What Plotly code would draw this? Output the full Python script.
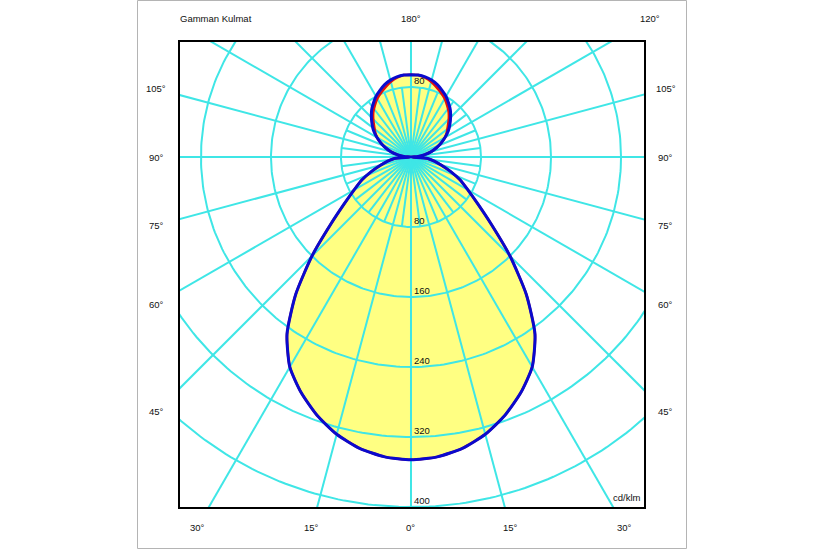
import numpy as np
import plotly.graph_objects as go

# ---- data ----
gamma_deg = [0, 5, 10, 15, 20, 25, 30, 35, 40, 45, 50, 55, 60, 65, 70, 75, 80, 85, 90,
             95, 100, 105, 110, 115, 120, 125, 130, 135, 140, 145, 150, 155, 160, 165, 170, 175, 180]
intensity_c90 = [346, 344, 338, 328, 314, 297, 277, 247, 205, 160, 120, 93, 75, 62, 48, 36, 27, 19, 0,
                 8, 16, 24, 31, 38, 45, 52, 58, 64, 70, 75, 80, 84, 88, 91, 93, 94, 94]
intensity_c0 = [346, 344, 338, 328, 314, 297, 277, 247, 205, 160, 120, 93, 75, 62, 48, 36, 27, 19, 0,
                8, 16, 24, 31, 38, 45, 50, 55, 61, 67, 72, 77, 81, 85, 89, 92, 94, 94]
circle_values = [80, 160, 240, 320, 400]
circle_labels = ["80", "160", "240", "320", "400"]
upper_label_value = 80
side_angles = [105, 90, 75, 60, 45]
bottom_angles = [30, 15, 0, 15, 30]
bottom_signs = [-1, -1, 0, 1, 1]
top_label = "180°"
top_right_label = "120°"
title_text = "Gamman Kulmat"
unit_text = "cd/klm"

# ---- layout geometry ----
W, H = 825, 550
L, R, T, B = 179, 180, 41, 42
XR = [-265.1, 267.4]
YR = [-401.1, 132.6]
pw, ph = W - L - R, H - T - B

CYAN = "#3FE6E6"
BLUE = "#0A0ACD"
RED = "#E01010"
YELLOW = "#FFFF82"
FONT = dict(family="Liberation Sans, Arial, sans-serif", size=9.5, color="#111111")


def px(x):
    return (x - XR[0]) / (XR[1] - XR[0])


def py(y):
    return (y - YR[0]) / (YR[1] - YR[0])


def to_xy(angles, values, side):
    a = np.radians(np.array(angles, dtype=float))
    v = np.array(values, dtype=float)
    return side * v * np.sin(a), -v * np.cos(a)


def closed_curve(values):
    xr, yr = to_xy(gamma_deg, values, 1)
    xl, yl = to_xy(gamma_deg, values, -1)
    x = np.concatenate([xr, xl[::-1]])
    y = np.concatenate([yr, yl[::-1]])
    return x, y


fig = go.Figure()

# fill
fx, fy = closed_curve(intensity_c90)
fig.add_trace(go.Scatter(x=fx, y=fy, mode="lines", fill="toself", fillcolor=YELLOW,
                         line=dict(width=0, shape="spline", smoothing=0.6), hoverinfo="skip"))

# grid circles
th = np.linspace(0, 2 * np.pi, 361)
for r in circle_values:
    fig.add_trace(go.Scatter(x=r * np.cos(th), y=r * np.sin(th), mode="lines",
                             line=dict(color=CYAN, width=2), hoverinfo="skip"))

# radial lines: every 15 deg across the whole chart, intermediate 7.5 deg ones near the centre
for k in range(48):
    a = k * 7.5
    major = (k % 2 == 0)
    length = 700 if major else 80
    ar = np.radians(a)
    fig.add_trace(go.Scatter(x=[0, length * np.sin(ar)], y=[0, -length * np.cos(ar)], mode="lines",
                             line=dict(color=CYAN, width=2), hoverinfo="skip"))

# curves
rx, ry = closed_curve(intensity_c0)
fig.add_trace(go.Scatter(x=rx, y=ry, mode="lines",
                         line=dict(color=RED, width=2.5, shape="spline", smoothing=0.6), hoverinfo="skip"))
bx, by = closed_curve(intensity_c90)
fig.add_trace(go.Scatter(x=bx, y=by, mode="lines",
                         line=dict(color=BLUE, width=3, shape="spline", smoothing=0.6), hoverinfo="skip"))

ann = []
# circle value labels
for v, t in zip(circle_values, circle_labels):
    ann.append(dict(x=2, y=-v, text=t, showarrow=False, xanchor="left", yanchor="bottom",
                    font=FONT, borderpad=0))
ann.append(dict(x=2, y=upper_label_value, text=str(upper_label_value), showarrow=False,
                xanchor="left", yanchor="bottom", font=FONT, borderpad=0))


def pann(x, y, text, **kw):
    d = dict(x=px(x), y=py(y), xref="paper", yref="paper", text=text, showarrow=False, font=FONT,
             xanchor="center", yanchor="middle")
    d.update(kw)
    ann.append(d)


# side angle labels
sx = 291.0
for a in side_angles:
    yv = -sx / np.tan(np.radians(a)) if a != 90 else 0.0
    for s in (-1, 1):
        pann(s * sx, yv, f"{a}°")
# bottom labels
byv = -423.0
for a, s in zip(bottom_angles, bottom_signs):
    pann(s * abs(byv) * np.tan(np.radians(a)), byv, f"{a}°")
# top labels
tyv = 158.0
pann(0, tyv, top_label)
pann(tyv * np.tan(np.radians(60)), tyv, top_right_label)
pann(XR[0] - 1, tyv, title_text, xanchor="left")
ann.append(dict(x=XR[1] - 2, y=YR[0] + 4, text=unit_text, showarrow=False, xanchor="right",
                yanchor="bottom", font=FONT))

shapes = [
    dict(type="rect", xref="paper", yref="paper", x0=0, x1=1, y0=0, y1=1,
         line=dict(color="black", width=2), layer="above"),
    dict(type="rect", xref="paper", yref="paper",
         x0=(137.5 - L) / pw, x1=(686.5 - L) / pw, y0=(H - B - 548.5) / ph, y1=(H - B - 0.5) / ph,
         line=dict(color="#B4B4B4", width=1), layer="below"),
]

fig.update_layout(
    width=W, height=H, margin=dict(l=L, r=R, t=T, b=B),
    paper_bgcolor="white", plot_bgcolor="white", showlegend=False,
    xaxis=dict(range=XR, visible=False, fixedrange=True),
    yaxis=dict(range=YR, visible=False, fixedrange=True),
    annotations=ann, shapes=shapes,
)

fig.write_html("out.html", config={"displayModeBar": False},
               post_script="document.body.style.margin='0';")
